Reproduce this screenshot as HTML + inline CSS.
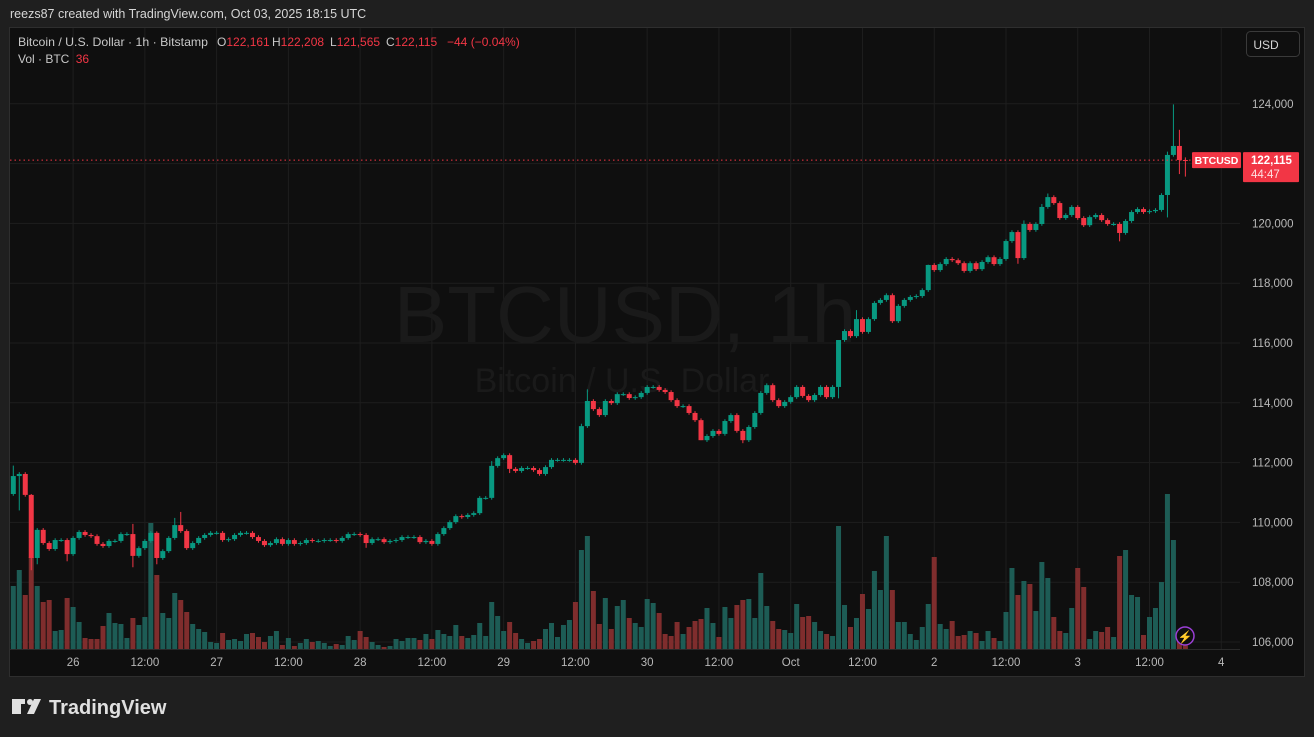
<!DOCTYPE html>
<html><head><meta charset="utf-8"><style>
html,body{margin:0;padding:0;background:#1f1f1f;width:1314px;height:737px;overflow:hidden;font-family:"Liberation Sans",sans-serif}
svg{position:absolute;left:0;top:0}
</style></head><body>
<svg id="chart" width="1314" height="737" xmlns="http://www.w3.org/2000/svg">
<rect x="0" y="0" width="1314" height="737" fill="#1f1f1f"/>
<text x="10" y="18" font-size="12.5" fill="#d6d6d6">reezs87 created with TradingView.com, Oct 03, 2025 18:15 UTC</text>
<rect x="9.5" y="27.5" width="1295" height="649" fill="#0f0f0f" stroke="#2e2e2e"/>
<g id="grid"></g>
<text x="625" y="342" font-size="80" fill="#1a1a1a" text-anchor="middle">BTCUSD, 1h</text>
<text x="622" y="392" font-size="34" fill="#1a1a1a" text-anchor="middle">Bitcoin / U.S. Dollar</text>
<g id="vols"></g>
<g id="candles"></g>
<g id="axes"></g>
<g font-size="12">
<text x="18" y="46" fill="#c8c8c8" textLength="190" lengthAdjust="spacingAndGlyphs">Bitcoin / U.S. Dollar · 1h · Bitstamp</text>
<text x="217" y="46" fill="#c8c8c8">O<tspan fill="#f23645">122,161</tspan></text>
<text x="272" y="46" fill="#c8c8c8">H<tspan fill="#f23645">122,208</tspan></text>
<text x="330" y="46" fill="#c8c8c8">L<tspan fill="#f23645">121,565</tspan></text>
<text x="386" y="46" fill="#c8c8c8">C<tspan fill="#f23645">122,115</tspan></text>
<text x="447" y="46" fill="#f23645">−44 (−0.04%)</text>
</g>
<text x="18" y="63" font-size="12" fill="#c8c8c8">Vol · BTC <tspan fill="#f23645" dx="3">36</tspan></text>
<rect x="1246.5" y="31.5" width="53" height="25" rx="4" fill="#0f0f0f" stroke="#3a3a3a"/>
<text x="1266" y="49" font-size="12" fill="#d6d6d6" text-anchor="middle">USD</text>
<g>
<path d="M12 699h13v5h-4v10h-9z" fill="#e0e0e0"/><circle cx="30" cy="702" r="3" fill="#e0e0e0"/><path d="M34 699h7l-7 15h-7z" fill="#e0e0e0"/>
<text x="49" y="714" font-size="20" font-weight="bold" fill="#e0e0e0">TradingView</text>
</g>
</svg>
<script>
const closes=[111550,111620,110920,108810,109750,109310,109110,109410,109410,108940,109480,109680,109580,109540,109280,109210,109380,109380,109610,109610,108880,109140,109380,109650,108810,109040,109480,109910,109710,109140,109310,109480,109580,109650,109650,109410,109440,109580,109650,109650,109510,109380,109240,109310,109440,109280,109410,109280,109310,109410,109380,109380,109410,109410,109380,109480,109610,109610,109580,109310,109440,109440,109340,109380,109410,109510,109510,109510,109340,109380,109280,109610,109810,110010,110210,110180,110250,110310,110820,110820,111890,112150,112250,111790,111720,111820,111820,111750,111620,111850,112090,112090,112090,112090,111990,113220,114060,113790,113590,114060,113990,114290,114290,114160,114190,114330,114530,114530,114430,114360,114090,113890,113890,113660,113420,112750,112890,113060,112960,113390,113590,113060,112750,113190,113660,114330,114590,114090,113890,114030,114190,114530,114230,114090,114260,114530,114190,114530,116100,116400,116230,116800,116370,116800,117340,117440,117600,116730,117240,117440,117540,117570,117770,118610,118440,118640,118810,118770,118670,118410,118670,118470,118710,118870,118640,118810,119410,119710,118840,119980,119780,119980,120550,120880,120680,120180,120280,120550,120180,119940,120210,120280,120110,119980,119980,119680,120080,120380,120480,120380,120410,120450,120950,122290,122590,122120,122115];
const firstOpen=110950;
const volumes=[630,790,540,920,630,470,490,180,190,510,420,270,110,100,100,230,360,260,250,110,310,240,320,1260,740,360,310,560,490,370,250,200,170,70,60,160,90,100,80,150,160,120,70,130,180,40,110,30,60,100,70,80,60,30,50,40,130,90,180,120,70,40,20,30,100,80,110,110,90,150,100,190,150,130,240,130,110,140,260,130,470,330,180,270,160,100,60,80,100,200,260,120,240,290,470,990,1130,580,250,510,200,430,490,310,260,220,500,460,360,150,130,270,150,220,280,300,410,260,120,420,310,440,490,500,310,760,430,280,200,190,160,450,320,330,270,180,150,130,1230,440,220,310,550,400,780,590,1130,590,270,270,150,90,220,450,920,250,200,280,130,140,180,160,80,180,110,80,370,810,540,680,650,380,870,710,320,180,160,410,810,620,100,180,170,220,120,930,990,540,520,140,320,410,670,1550,1090,80,36];
const wickHighs={0:111900,3:110950,20:109950,24:109700,27:110150,28:110350,80:112050,95:113300,96:114450,138:116100,141:117100,153:118620,169:120100,172:120650,173:121000,193:122400,194:123980,195:123130,196:122208};
const wickLows={1:110400,3:108400,4:108600,9:108700,20:108500,24:108600,59:109150,83:111650,115:112750,122:112650,138:114150,168:118650,185:119400,193:120200,195:121650,196:121565};
const priceTicks=[106000,108000,110000,112000,114000,116000,118000,120000,122000,124000];
const timeTicks=[{h:10,l:"26"},{h:22,l:"12:00"},{h:34,l:"27"},{h:46,l:"12:00"},{h:58,l:"28"},{h:70,l:"12:00"},{h:82,l:"29"},{h:94,l:"12:00"},{h:106,l:"30"},{h:118,l:"12:00"},{h:130,l:"Oct"},{h:142,l:"12:00"},{h:154,l:"2"},{h:166,l:"12:00"},{h:178,l:"3"},{h:190,l:"12:00"},{h:202,l:"4"}];

const NS="http://www.w3.org/2000/svg";
const yP=p=>642-(p-106000)*0.0299;
const xI=i=>13.3+i*5.98;
const yV=v=>649-v*0.1;
function mk(tag,attrs,parent){const e=document.createElementNS(NS,tag);for(const k in attrs)e.setAttribute(k,attrs[k]);parent.appendChild(e);return e;}
const grid=document.getElementById('grid'),axes=document.getElementById('axes'),cg=document.getElementById('candles'),vg=document.getElementById('vols');
priceTicks.forEach(p=>{
 const l=mk('line',{x1:10,x2:1240,y1:yP(p),y2:yP(p),stroke:'#1e1e1e','stroke-width':1},grid);
 
 
 if(p===122000)return;
 const t=mk('text',{x:1252,y:yP(p)+4,'font-size':11.5,fill:'#b8b8b8'},axes);
 t.textContent=p.toLocaleString('en-US');
 
 
});
timeTicks.forEach(tk=>{
 const x=xI(tk.h);
 const l=mk('line',{x1:x,x2:x,y1:28,y2:649,stroke:'#1e1e1e','stroke-width':1},grid);
 
 
 const t=mk('text',{x:x,y:666,'font-size':11.5,fill:'#b8b8b8','text-anchor':'middle'},axes);
 t.textContent=tk.l;
 
 
});
const sep=mk('line',{x1:10,x2:1240,y1:649.5,y2:649.5,stroke:'#2a2a2a'},axes);


closes.forEach((c,i)=>{
 const o=i===0?firstOpen:closes[i-1];
 const up=c>=o;
 const col=up?'#089981':'#f23645';
 const x=xI(i);
 const top=Math.max(o,c),bot=Math.min(o,c);
 const h=wickHighs[i]!==undefined?wickHighs[i]:top+60;
 const lo=wickLows[i]!==undefined?wickLows[i]:bot-60;
 const v=mk('rect',{x:x-2.5,y:yV(volumes[i]),width:5,height:649-yV(volumes[i]),fill:up?'#1d5c55':'#7f2d2d'},vg);
 
 
 const w=mk('line',{x1:x,x2:x,y1:yP(h),y2:yP(lo),stroke:col,'stroke-width':1},cg);
 
 
 const b=mk('rect',{x:x-2.5,y:yP(top),width:5,height:Math.max(1,yP(bot)-yP(top)),fill:col},cg);
 
 
});
const last=closes[closes.length-1];
const ly=yP(last);
const pl=mk('line',{x1:10,x2:1240,y1:ly,y2:ly,stroke:'#f23645','stroke-dasharray':'1.5 3','stroke-width':1},axes);


const sr=mk('rect',{x:1192,y:ly-8,width:49,height:16,rx:1,fill:'#f23645'},axes);


const st=mk('text',{x:1216.5,y:ly+4,'font-size':10.5,'font-weight':'bold',fill:'#fff','text-anchor':'middle'},axes);
st.textContent='BTCUSD';


const pr=mk('rect',{x:1243,y:ly-8,width:56,height:30,rx:1,fill:'#f23645'},axes);


const pt=mk('text',{x:1251,y:ly+4,'font-size':11.5,'font-weight':'bold',fill:'#fff'},axes);
pt.textContent=last.toLocaleString('en-US');


const ct=mk('text',{x:1251,y:ly+18,'font-size':11.5,fill:'#fde0e2'},axes);
ct.textContent='44:47';


const ic=mk('circle',{cx:1185,cy:636,r:9,fill:'#0f0f0f',stroke:'#9b3fd6','stroke-width':1.5},axes);


const it=mk('text',{x:1185,y:641,'font-size':12,fill:'#b060ee','text-anchor':'middle'},axes);
it.textContent='⚡';


</script>
</body></html>
